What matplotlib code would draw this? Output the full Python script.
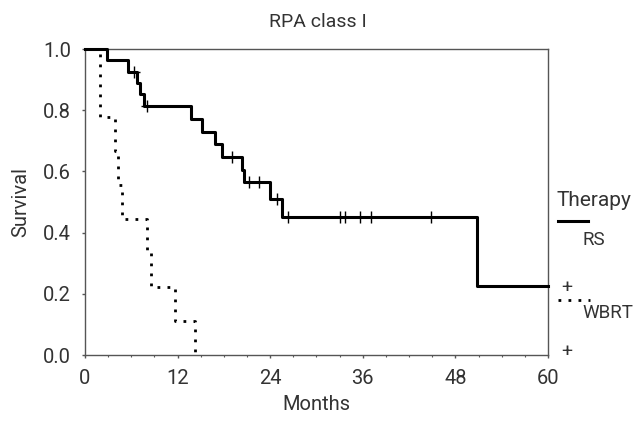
import numpy as np
import matplotlib
matplotlib.use("Agg")
import matplotlib.pyplot as plt
from matplotlib.lines import Line2D

plt.rcParams['font.family'] = ['Roboto', 'DejaVu Sans']

# Kaplan-Meier steps (months, survival)
rs_times = [0, 2.8, 5.6, 6.7, 7.1, 7.6, 13.8, 15.1, 16.8, 17.8, 20.3, 20.6, 24.0, 25.5, 50.8, 60]
rs_surv = [1.0, 0.963, 0.926, 0.889, 0.852, 0.815, 0.772, 0.730, 0.689, 0.648, 0.605, 0.564, 0.509, 0.452, 0.226, 0.226]
rs_censor = [6.4, 8.0, 19.0, 21.2, 22.6, 24.9, 26.3, 33.0, 33.7, 35.7, 37.0, 44.8]

wb_times = [0, 1.9, 3.9, 4.3, 4.8, 8.0, 8.6, 11.7, 14.2]
wb_surv = [1.0, 0.778, 0.667, 0.556, 0.444, 0.333, 0.222, 0.111, 0.0]

x_ticks = [0, 12, 24, 36, 48, 60]
y_ticks = [0.0, 0.2, 0.4, 0.6, 0.8, 1.0]

txt = '#333333'
spine = '#555555'
fs = 14.5


def surv_at(times, surv, t):
    idx = np.searchsorted(times, t, side='right') - 1
    return np.array(surv)[idx]


fig = plt.figure(figsize=(6.37, 4.25), dpi=100)
ax = fig.add_axes([0.1334, 0.1647, 0.7269, 0.72])

ax.step(rs_times, rs_surv, where='post', color='black', lw=2.2, clip_on=False, zorder=3)
ax.plot(rs_censor, surv_at(rs_times, rs_surv, rs_censor), ls='none', marker='+',
        ms=9, mew=1.0, color='black', zorder=4)
ax.step(wb_times, wb_surv, where='post', color='black', lw=2.0,
        ls=(0, (1, 2.6)), clip_on=False, zorder=3)

ax.set_xlim(0, 60)
ax.set_ylim(0, 1.0)
ax.set_xticks(x_ticks)
ax.set_xticklabels([str(v) for v in x_ticks])
ax.set_xticks(np.arange(0, 61, 3), minor=True)
ax.set_yticks(y_ticks)
ax.set_yticklabels(['%.1f' % v for v in y_ticks])
ax.tick_params(axis='both', which='major', length=2.5, width=1, color=spine,
               labelsize=fs, labelcolor=txt)
ax.tick_params(axis='x', which='major', pad=7.5)
ax.tick_params(axis='y', which='major', pad=7.5)
ax.tick_params(axis='x', which='minor', length=1.5, width=0.8, color=spine)
for s in ax.spines.values():
    s.set_color(spine)
    s.set_linewidth(1.0)

ax.set_xlabel('Months', fontsize=fs, color=txt, labelpad=5)
ax.set_ylabel('Survival', fontsize=fs, color=txt, labelpad=9)
fig.text(0.4995, 0.948, 'RPA class I', ha='center', va='center', fontsize=14, color=txt)

# legend block on the right, SPSS style
fig.text(0.874, 0.529, 'Therapy', ha='left', va='center', fontsize=15, color=txt)
fig.add_artist(Line2D([0.876, 0.923], [0.479, 0.479], transform=fig.transFigure,
                      color='black', lw=2.2))
fig.text(0.915, 0.435, 'RS', ha='left', va='center', fontsize=13.5, color=txt)
fig.text(0.890, 0.322, '+', ha='center', va='center', fontsize=14, color=txt)
fig.add_artist(Line2D([0.876, 0.926], [0.294, 0.294], transform=fig.transFigure,
                      color='black', lw=2.0, ls=(0, (1, 2.6))))
fig.text(0.914, 0.264, 'WBRT', ha='left', va='center', fontsize=13.5, color=txt)
fig.text(0.890, 0.172, '+', ha='center', va='center', fontsize=14, color=txt)

fig.savefig('out.png', dpi=100)
